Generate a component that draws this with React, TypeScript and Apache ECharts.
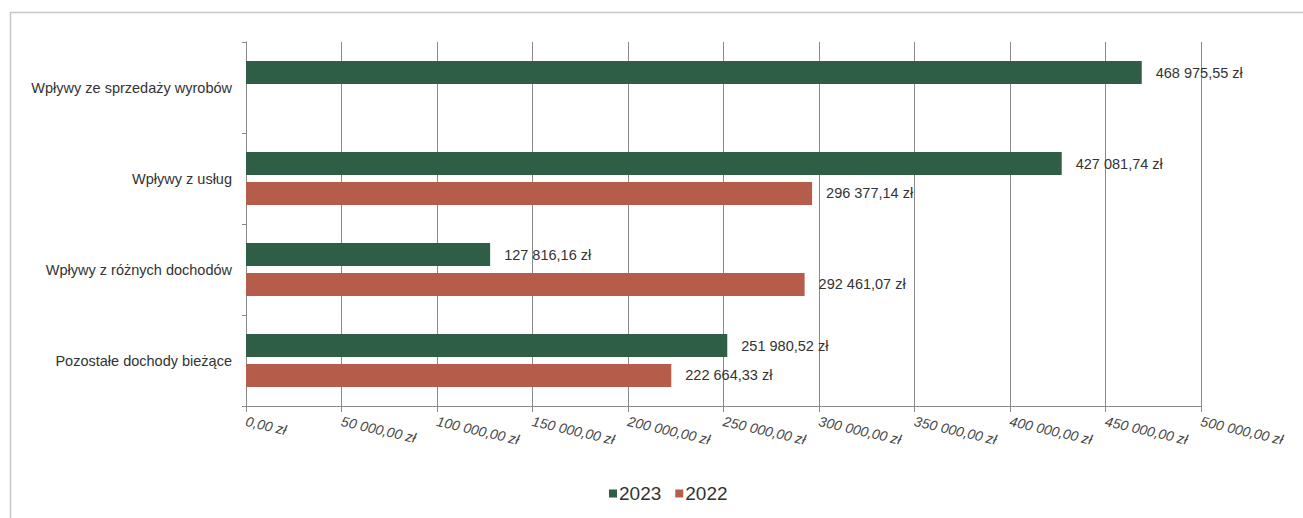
import React, { useEffect, useRef } from "react";
import * as echarts from "echarts";

const categories = [
  "Wpływy ze sprzedaży wyrobów",
  "Wpływy z usług",
  "Wpływy z różnych dochodów",
  "Pozostałe dochody bieżące",
];
const values2023 = [468975.55, 427081.74, 127816.16, 251980.52];
const values2022: (number | null)[] = [null, 296377.14, 292461.07, 222664.33];
const seriesNames = ["2023", "2022"];
const axisMin = 0;
const axisMax = 500000;
const axisInterval = 50000;

function fmt(v: number, decimals = 2): string {
  const fixed = v.toFixed(decimals);
  const [intPart, dec] = fixed.split(".");
  const withSpaces = intPart.replace(/\B(?=(\d{3})+(?!\d))/g, " ");
  return withSpaces + "," + dec + " zł";
}

export default function App() {
  const ref = useRef<HTMLDivElement>(null);
  useEffect(() => {
    if (!ref.current) return;
    const chart = echarts.init(ref.current, undefined, { renderer: "svg" });
    const font = "Liberation Sans, Arial, sans-serif";
    const labelCfg = {
      show: true,
      position: "right",
      distance: 14,
      color: "#333",
      fontSize: 14.5,
      fontFamily: font,
      formatter: (p: any) => (p.value == null ? "" : fmt(p.value)),
    };
    chart.setOption({
      animation: false,
      backgroundColor: "#fff",
      textStyle: { fontFamily: font },
      graphic: [
        {
          type: "rect",
          shape: { x: 10.5, y: 12.5, width: 1400, height: 600 },
          style: { fill: "none", stroke: "#c8c8c8", lineWidth: 1.5 },
          silent: true,
          z: -1,
        },
      ],
      grid: { left: 246, right: 102, top: 42, bottom: 112, containLabel: false },
      legend: {
        data: seriesNames,
        left: 604,
        top: 479,
        itemWidth: 8,
        itemHeight: 8,
        itemGap: 14,
        icon: "rect",
        textStyle: { fontSize: 19, color: "#333", fontFamily: font, padding: [0, 0, 0, -3] },
      },
      xAxis: {
        type: "value",
        min: axisMin,
        max: axisMax,
        interval: axisInterval,
        axisLine: { show: true, lineStyle: { color: "#8a8a8a", width: 1 } },
        axisTick: { show: true, length: 6, lineStyle: { color: "#8a8a8a" } },
        splitLine: { show: true, lineStyle: { color: "#8a8a8a", width: 1 } },
        axisLabel: {
          rotate: -13,
          margin: 15,
          fontSize: 14,
          color: "#444",
          fontStyle: "italic",
          fontFamily: font,
          formatter: (v: number) => fmt(v),
        },
      },
      yAxis: {
        type: "category",
        data: categories,
        inverse: true,
        axisLine: { show: true, lineStyle: { color: "#8a8a8a", width: 1 } },
        axisTick: { show: true, length: 4, lineStyle: { color: "#8a8a8a" } },
        axisLabel: { fontSize: 14.5, color: "#333", margin: 14, fontFamily: font },
        splitLine: { show: false },
      },
      series: [
        {
          name: seriesNames[0],
          type: "bar",
          data: values2023,
          barWidth: 23,
          barGap: "30%",
          itemStyle: { color: "#2e5f46" },
          label: labelCfg,
        },
        {
          name: seriesNames[1],
          type: "bar",
          data: values2022,
          barWidth: 23,
          itemStyle: { color: "#b65c4b" },
          label: labelCfg,
        },
      ],
    });
    return () => chart.dispose();
  }, []);
  return (
    <div
      ref={ref}
      style={{ position: "fixed", left: 0, top: 0, width: 1303, height: 518 }}
    />
  );
}
